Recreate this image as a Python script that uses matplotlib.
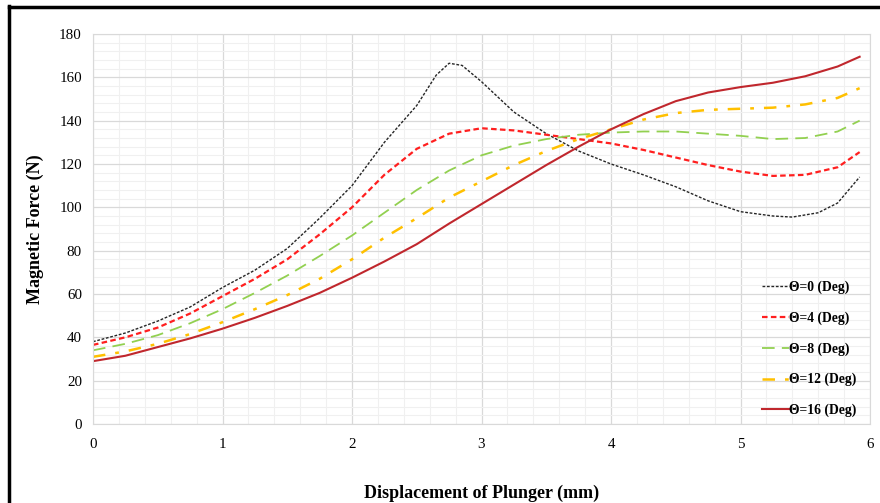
import numpy as np
import matplotlib.pyplot as plt
from matplotlib.lines import Line2D
from matplotlib.ticker import MultipleLocator

# displacement of plunger (mm)
x = [0, 0.25, 0.5, 0.75, 1, 1.25, 1.5, 1.75, 2, 2.25, 2.5, 2.75, 3, 3.25,
     3.5, 3.75, 4, 4.25, 4.5, 4.75, 5, 5.25, 5.5, 5.75, 5.92]

# theta = 0 has a sharp peak, so it gets its own x points
x0 = [0, 0.25, 0.5, 0.75, 1, 1.25, 1.5, 1.75, 2, 2.25, 2.5, 2.65, 2.75, 2.85,
      3, 3.25, 3.5, 3.75, 4, 4.25, 4.5, 4.75, 5, 5.25, 5.4, 5.6, 5.75, 5.92]
f0 = [38, 42, 47.5, 54, 63, 71, 81, 95, 110, 130, 147, 161, 166.5, 165.5,
      158, 144, 134, 126, 120, 115, 109.5, 103, 98, 96, 95.5, 97.5, 102, 114]

f4 = [36.5, 40, 44.5, 51, 59, 67, 76, 87.5, 100, 115, 127, 134, 136.5, 135.5,
      133.5, 131.5, 129.5, 126.5, 123, 119.5, 116.5, 114.5, 115, 118.5, 125.5]
f8 = [34, 37, 41, 46.5, 53, 60.5, 68.5, 77.5, 87, 97.5, 108, 117, 124, 128.5,
      131.5, 133.5, 134.5, 135, 135, 134, 133, 131.5, 132, 135, 140]
f12 = [31, 33.5, 37, 41.5, 47, 53, 59.5, 67, 76, 86, 95, 104.5, 112, 119.5,
       126, 131.5, 136, 140.5, 143.5, 145, 145.5, 146, 147.5, 150.5, 155]
f16 = [29, 31.5, 35.5, 39.5, 44, 49, 54.5, 60.5, 67.5, 75, 83, 92.5, 101.5, 110.5,
       119.5, 128, 136, 143, 149, 153, 155.5, 157.5, 160.5, 165, 169.5]

labels = ['Θ=0 (Deg)', 'Θ=4 (Deg)', 'Θ=8 (Deg)', 'Θ=12 (Deg)', 'Θ=16 (Deg)']

plt.rcParams['font.family'] = ['Liberation Serif', 'DejaVu Serif']

fig = plt.figure(figsize=(8.8, 5.03), dpi=100)
ax = fig.add_axes([93/880, 1 - 424/503, 777/880, 390/503])

ax.plot(x0, f0, color='#262626', lw=1.0, dashes=(2, 1.2), label=labels[0])
ax.plot(x, f4, color='#FF1F1F', lw=1.6, dashes=(2.5, 1.5), label=labels[1])
ax.plot(x, f8, color='#92D050', lw=1.3, dashes=(7, 4), label=labels[2])
ax.plot(x, f12, color='#FFC000', lw=1.8, dashes=(5, 4, 1.5, 4), label=labels[3])
ax.plot(x, f16, color='#C0272D', lw=1.5, label=labels[4])

ax.set_xlim(0, 6)
ax.set_ylim(0, 180)
ax.xaxis.set_major_locator(MultipleLocator(1))
ax.xaxis.set_minor_locator(MultipleLocator(0.2))
ax.yaxis.set_major_locator(MultipleLocator(20))
ax.yaxis.set_minor_locator(MultipleLocator(4))
ax.grid(True, which='major', color='#d9d9d9', lw=0.9)
ax.grid(True, which='minor', color='#f0f0f0', lw=0.8)
ax.set_axisbelow(True)
for s in ax.spines.values():
    s.set_color('#d9d9d9')
ax.tick_params(which='both', length=0, labelsize=10.8)
ax.tick_params(axis='x', pad=10)
ax.tick_params(axis='y', pad=8)

ax.set_xlabel('Displacement of Plunger (mm)', fontsize=13, fontweight='bold', labelpad=24)
ax.set_ylabel('Magnetic Force (N)', fontsize=13, fontweight='bold', labelpad=11)

leg = ax.legend(loc='upper left', bbox_to_anchor=(0.845, 0.40), frameon=False,
                handlelength=2.0, handletextpad=0.0, labelspacing=1.28,
                prop={'weight': 'bold', 'size': 9.8})

# black frame on left and top of the picture
fig.add_artist(Line2D([8.5/880, 8.5/880], [0, 1 - 6/503], color='black', lw=2.5))
fig.add_artist(Line2D([8.5/880, 1], [1 - 6.5/503, 1 - 6.5/503], color='black', lw=2.5))

fig.savefig('out.png', dpi=100)
